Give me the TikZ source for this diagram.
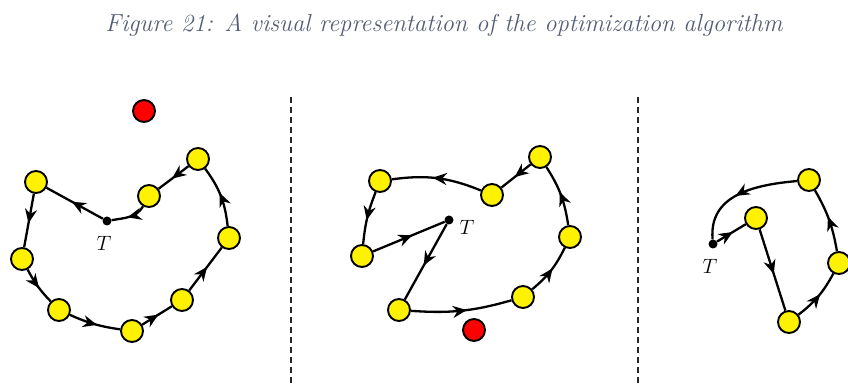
\documentclass[tikz,border=0pt]{standalone}
\usetikzlibrary{arrows.meta,decorations.markings}
\definecolor{titlecol}{RGB}{84,94,116}
\tikzset{
  x=1pt,y=1pt,
  city/.style={circle,draw=black,line width=1.9pt,fill=yellow,minimum size=22pt,inner sep=0pt},
  redcity/.style={circle,draw=black,line width=1.9pt,fill=red,minimum size=22pt,inner sep=0pt},
  start/.style={circle,fill=black,minimum size=9pt,inner sep=0pt},
  tlabel/.style={font=\fontsize{22}{26}\selectfont},
  flow/.style={line width=2.3pt,postaction={decorate},
    decoration={markings,mark=at position 0.55 with {\arrow{Stealth[length=14pt,width=12pt,inset=4.5pt]}}}},
  divider/.style={line width=1.5pt,dash pattern=on 6pt off 4pt,black!85},
}
\begin{document}
\begin{tikzpicture}
\clip (0,0) rectangle (848,387);
\fill[white] (0,0) rectangle (848,387);

\node[text=titlecol,font=\fontsize{24.6}{29}\selectfont\itshape] (title) at (444,362)
  {Figure 21: A visual representation of the optimization algorithm};

% dividers
\coordinate (d1t) at (291,290); \coordinate (d1b) at (291,4);
\coordinate (d2t) at (638,290); \coordinate (d2b) at (638,4);
\draw[divider] (d1t) -- (d1b);
\draw[divider] (d2t) -- (d2b);

% ---------- left panel ----------
\node[redcity] (lR) at (144,276) {};
\node[city] (lA) at (198,228) {};
\node[city] (lB) at (149,191) {};
\node[start] (lT) at (107,166) {};
\node[tlabel] (lTl) at (104,144) {$T$};
\node[city] (lC) at (36,205) {};
\node[city] (lD) at (22,128) {};
\node[city] (lE) at (59,77) {};
\node[city] (lF) at (132,56) {};
\node[city] (lG) at (182,87) {};
\node[city] (lH) at (229,149) {};
\draw[flow] (lT) -- (lC);
\draw[flow] (lC) -- (lD);
\draw[flow] (lD) to[bend right=8] (lE);
\draw[flow] (lE) to[bend right=8] (lF);
\draw[flow] (lF) -- (lG);
\draw[flow] (lG) -- (lH);
\draw[flow] (lH) to[bend right=15] (lA);
\draw[flow] (lA) -- (lB);
\draw[flow] (lB) to[out=-120,in=10] (lT);

% ---------- middle panel ----------
\node[city] (mA) at (540,230) {};
\node[city] (mB) at (492,192) {};
\node[city] (mC) at (380,206) {};
\node[city] (mD) at (362,131) {};
\node[start] (mT) at (449,167) {};
\node[tlabel] (mTl) at (467,160) {$T$};
\node[city] (mE) at (399,77) {};
\node[redcity] (mR) at (474,57) {};
\node[city] (mF) at (523,90) {};
\node[city] (mG) at (570,150) {};
\draw[flow] (mD) -- (mT);
\draw[flow] (mT) -- (mE);
\draw[flow] (mE) to[bend right=10] (mF);
\draw[flow] (mF) to[bend right=12] (mG);
\draw[flow] (mG) to[bend right=12] (mA);
\draw[flow] (mA) -- (mB);
\draw[flow] (mB) to[bend right=15] (mC);
\draw[flow] (mC) to[bend right=8] (mD);

% ---------- right panel ----------
\node[city] (rA) at (809,207) {};
\node[city] (rB) at (756,169) {};
\node[start] (rT) at (713,143) {};
\node[tlabel] (rTl) at (710,121) {$T$};
\node[city] (rC) at (789,65) {};
\node[city] (rD) at (839,124) {};
\draw[flow] (rT) -- (rB);
\draw[flow] (rB) -- (rC);
\draw[flow] (rC) to[bend right=12] (rD);
\draw[flow] (rD) to[bend right=10] (rA);
\draw[flow] (rA) to[out=185,in=95,looseness=1.1] (rT);
\end{tikzpicture}
\end{document}
